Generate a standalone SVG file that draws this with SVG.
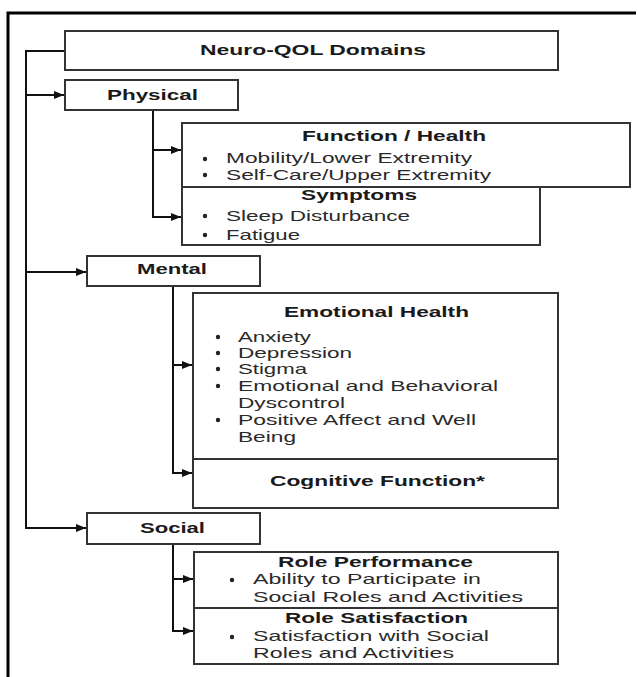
<svg xmlns="http://www.w3.org/2000/svg" width="638" height="677" viewBox="0 0 638 677">
<style>
.box{fill:#fff;stroke:#333;stroke-width:2}
.con{fill:none;stroke:#111;stroke-width:2}
.h{font-family:"Liberation Sans",Arial,sans-serif;font-size:15px;font-weight:bold;fill:#1a1a1a}
.t{font-family:"Liberation Sans",Arial,sans-serif;font-size:15px;fill:#2a2a2a}
.b{fill:#222}
</style>
<defs>
<marker id="arr" markerWidth="10" markerHeight="8" refX="10" refY="4" orient="auto" markerUnits="userSpaceOnUse">
<path d="M0,0 L10,4 L0,8 Z" fill="#111"/>
</marker>
</defs>
<rect width="638" height="677" fill="#fff"/>
<g id="frame" fill="none" stroke="#000" stroke-width="3">
<path d="M8,677 V13 H636"/>
</g>
<g id="connectors" class="con">
<path d="M65,51 H26 V528 H86" marker-end="url(#arr)"/>
<path d="M26,95 H64" marker-end="url(#arr)"/>
<path d="M26,272 H86" marker-end="url(#arr)"/>
<path d="M153,110 V217 H181" marker-end="url(#arr)"/>
<path d="M153,150 H181" marker-end="url(#arr)"/>
<path d="M173,286 V473 H192" marker-end="url(#arr)"/>
<path d="M173,365 H192" marker-end="url(#arr)"/>
<path d="M173,544 V631 H193" marker-end="url(#arr)"/>
<path d="M173,579 H193" marker-end="url(#arr)"/>
</g>
<g id="root">
<rect class="box" x="65" y="31" width="493" height="39"/>
<text class="h" x="200" y="55" textLength="226" lengthAdjust="spacingAndGlyphs">Neuro-QOL Domains</text>
</g>
<g id="physical">
<rect class="box" x="65" y="80" width="173" height="30"/>
<text class="h" x="107" y="100" textLength="91" lengthAdjust="spacingAndGlyphs">Physical</text>
</g>
<g id="function-health">
<rect class="box" x="182" y="123" width="448" height="64"/>
<text class="h" x="302" y="141" textLength="184" lengthAdjust="spacingAndGlyphs">Function / Health</text>
<circle class="b" cx="205" cy="159" r="2.2"/>
<text class="t" x="226" y="163" textLength="246" lengthAdjust="spacingAndGlyphs">Mobility/Lower Extremity</text>
<circle class="b" cx="205" cy="175" r="2.2"/>
<text class="t" x="226" y="180" textLength="265" lengthAdjust="spacingAndGlyphs">Self-Care/Upper Extremity</text>
</g>
<g id="symptoms">
<rect class="box" x="182" y="187" width="358" height="58"/>
<text class="h" x="301" y="200" textLength="116" lengthAdjust="spacingAndGlyphs">Symptoms</text>
<circle class="b" cx="205" cy="216" r="2.2"/>
<text class="t" x="226" y="221" textLength="184" lengthAdjust="spacingAndGlyphs">Sleep Disturbance</text>
<circle class="b" cx="205" cy="235" r="2.2"/>
<text class="t" x="226" y="240" textLength="74" lengthAdjust="spacingAndGlyphs">Fatigue</text>
</g>
<g id="mental">
<rect class="box" x="87" y="256" width="173" height="30"/>
<text class="h" x="137" y="274" textLength="70" lengthAdjust="spacingAndGlyphs">Mental</text>
</g>
<g id="emotional-health">
<rect class="box" x="193" y="293" width="365" height="166"/>
<text class="h" x="284" y="317" textLength="185" lengthAdjust="spacingAndGlyphs">Emotional Health</text>
<circle class="b" cx="218" cy="337" r="2.2"/>
<text class="t" x="238" y="342" textLength="73" lengthAdjust="spacingAndGlyphs">Anxiety</text>
<circle class="b" cx="218" cy="353" r="2.2"/>
<text class="t" x="238" y="358" textLength="114" lengthAdjust="spacingAndGlyphs">Depression</text>
<circle class="b" cx="218" cy="369" r="2.2"/>
<text class="t" x="238" y="374" textLength="69" lengthAdjust="spacingAndGlyphs">Stigma</text>
<circle class="b" cx="218" cy="386" r="2.2"/>
<text class="t" x="238" y="391" textLength="260" lengthAdjust="spacingAndGlyphs">Emotional and Behavioral</text>
<text class="t" x="238" y="408" textLength="107" lengthAdjust="spacingAndGlyphs">Dyscontrol</text>
<circle class="b" cx="218" cy="420" r="2.2"/>
<text class="t" x="238" y="425" textLength="238" lengthAdjust="spacingAndGlyphs">Positive Affect and Well</text>
<text class="t" x="238" y="442" textLength="58" lengthAdjust="spacingAndGlyphs">Being</text>
</g>
<g id="cognitive-function">
<rect class="box" x="193" y="459" width="365" height="49"/>
<text class="h" x="270" y="486" textLength="215" lengthAdjust="spacingAndGlyphs">Cognitive Function*</text>
</g>
<g id="social">
<rect class="box" x="87" y="513" width="173" height="31"/>
<text class="h" x="140" y="533" textLength="65" lengthAdjust="spacingAndGlyphs">Social</text>
</g>
<g id="role-performance">
<rect class="box" x="194" y="552" width="364" height="56"/>
<text class="h" x="278" y="567" textLength="195" lengthAdjust="spacingAndGlyphs">Role Performance</text>
<circle class="b" cx="232" cy="580" r="2.2"/>
<text class="t" x="253" y="584" textLength="228" lengthAdjust="spacingAndGlyphs">Ability to Participate in</text>
<text class="t" x="253" y="602" textLength="270" lengthAdjust="spacingAndGlyphs">Social Roles and Activities</text>
</g>
<g id="role-satisfaction">
<rect class="box" x="194" y="608" width="364" height="56"/>
<text class="h" x="285" y="623" textLength="183" lengthAdjust="spacingAndGlyphs">Role Satisfaction</text>
<circle class="b" cx="232" cy="637" r="2.2"/>
<text class="t" x="253" y="641" textLength="236" lengthAdjust="spacingAndGlyphs">Satisfaction with Social</text>
<text class="t" x="253" y="658" textLength="201" lengthAdjust="spacingAndGlyphs">Roles and Activities</text>
</g>
</svg>
